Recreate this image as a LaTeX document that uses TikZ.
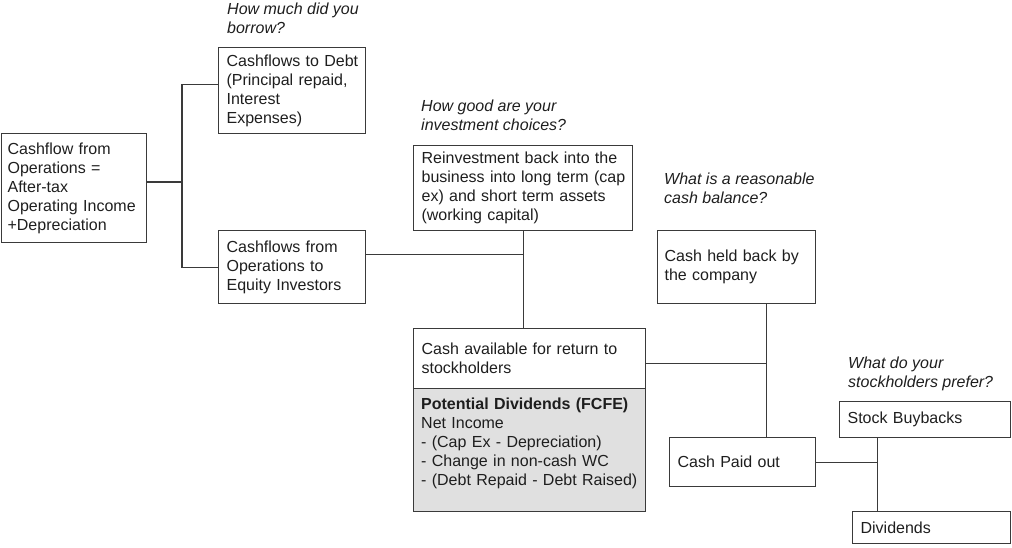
\documentclass[tikz,border=0pt]{standalone}
\usepackage{fontspec}
\setmainfont{Liberation Sans}
\definecolor{linec}{HTML}{3A3A3A}
\definecolor{txt}{HTML}{1E1E1E}
\definecolor{grayfill}{HTML}{E0E0E0}
\newcommand{\boxfont}{\fontsize{16}{19}\selectfont}
\newcommand{\ml}[1]{\mbox{#1}}
\begin{document}
\begin{tikzpicture}[x=1pt,y=-1pt,
  box/.style={draw=linec, line width=1.2pt, anchor=north west, inner xsep=8pt, inner ysep=0pt,
    align=left, font=\boxfont, text=txt},
  question/.style={anchor=north west, inner sep=0pt, align=left, font=\boxfont\itshape, text=txt},
  conn/.style={draw=linec, line width=1.2pt}]
\useasboundingbox (0,0) rectangle (1012,548);

% boxes
\node[box, inner xsep=6pt, text width=133pt, minimum height=109pt] (ops) at (1,133)
  {\ml{Cashflow from}\\\ml{Operations =}\\\ml{After-tax}\\\ml{Operating Income}\\\ml{+Depreciation}};
\node[box, text width=131pt, minimum height=86pt] (debt) at (218,47)
  {\ml{Cashflows to Debt}\\\ml{(Principal repaid,}\\\ml{Interest}\\\ml{Expenses)}};
\node[box, text width=131pt, minimum height=73pt] (equity) at (218,230)
  {\ml{Cashflows from}\\\ml{Operations to}\\\ml{Equity Investors}};
\node[box, text width=203pt, minimum height=85pt] (reinv) at (413,145)
  {\ml{Reinvestment back into the}\\\ml{business into long term (cap}\\\ml{ex) and short term assets}\\\ml{(working capital)}};
\node[box, inner xsep=7pt, text width=144pt, minimum height=73pt] (held) at (657,230)
  {\ml{Cash held back by}\\\ml{the company}};
\node[box, text width=216pt, minimum height=60pt] (cashav) at (413,328)
  {\ml{Cash available for return to}\\\ml{stockholders}};
\node[box, fill=grayfill, minimum width=232pt, minimum height=123pt] (pot) at (413,388) {};
\node[question, font=\boxfont, text width=216pt] (pottxt) at (421,397.5)
  {\ml{\textbf{Potential Dividends (FCFE)}}\\\ml{Net Income}\\\ml{- (Cap Ex - Depreciation)}\\\ml{- Change in non-cash WC}\\\ml{- (Debt Repaid - Debt Raised)}};
\node[box, text width=130pt, minimum height=49pt] (paid) at (669,437) {\ml{Cash Paid out}};
\node[box, text width=155pt, minimum height=36pt] (buy) at (839,401) {\ml{Stock Buybacks}};
\node[box, text width=142pt, minimum height=32pt] (div) at (852,511) {\ml{Dividends}};

% questions
\node[question] (q1) at (227,3) {How much did you\\borrow?};
\node[question] (q2) at (421,100) {How good are your\\investment choices?};
\node[question] (q3) at (664,172.5) {What is a reasonable\\cash balance?};
\node[question] (q4) at (848,356.5) {What do your\\stockholders prefer?};

% connectors
\coordinate (j1) at (182,182);
\draw[conn] (ops.east |- j1) -- (j1);
\draw[conn] ([yshift=6pt]debt.west) -| (j1) |- (equity.west);
\draw[conn] ([yshift=12.5pt]equity.east) -- ([yshift=12.5pt]equity.east -| reinv.south);
\draw[conn] (reinv.south) -- (reinv.south |- cashav.north);
\coordinate (j4) at ([xshift=30pt]held.south);
\draw[conn] ([yshift=-5pt]cashav.east) -- ([yshift=-5pt]cashav.east -| j4);
\draw[conn] (j4) -- (j4 |- paid.north);
\coordinate (j5) at ([xshift=61pt]paid.east);
\draw[conn] (paid.east) -- (j5);
\draw[conn] (j5 |- buy.south) -- (j5 |- div.north);
\end{tikzpicture}
\end{document}
